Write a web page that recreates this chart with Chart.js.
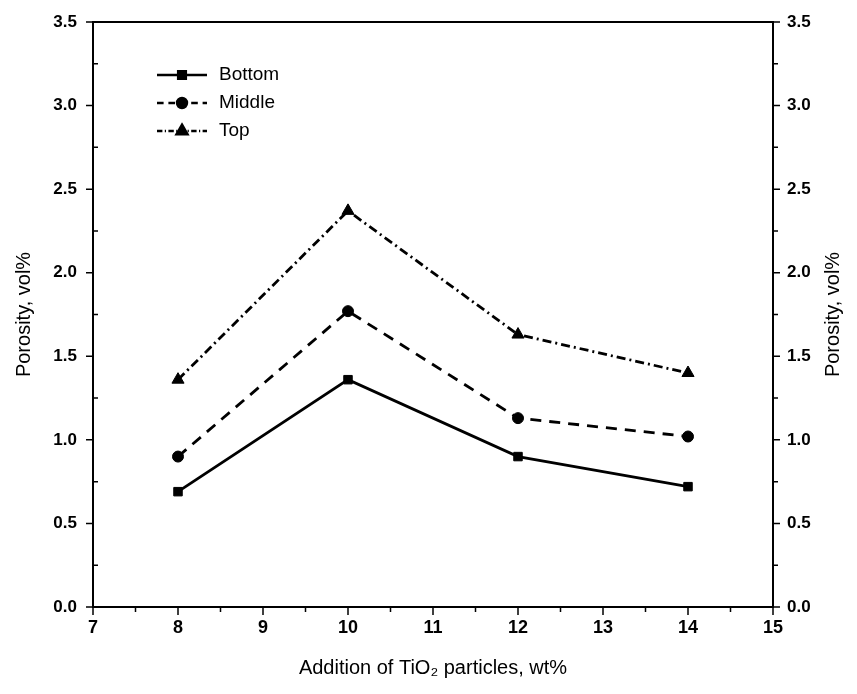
<!DOCTYPE html>
<html>
<head>
<meta charset="utf-8">
<script src="https://cdn.jsdelivr.net/npm/chart.js@4.4.1/dist/chart.umd.min.js"></script>
<style>
  html, body { margin: 0; padding: 0; background: #fff; }
  #wrap { width: 857px; height: 694px; }
</style>
</head>
<body>
<div id="wrap"><canvas id="porosity"></canvas></div>
<script>
// TiO2 addition, wt%
const additions = [8, 10, 12, 14];
// porosity, vol%
const bottomValues = [0.69, 1.36, 0.90, 0.72];
const middleValues = [0.90, 1.77, 1.13, 1.02];
const topValues = [1.36, 2.37, 1.63, 1.40];

const seriesNames = ['Bottom', 'Middle', 'Top'];
const yTitle = 'Porosity, vol%';
const xTitle = 'Addition of TiO\u2082 particles, wt%';

const FONT = "'Liberation Sans', Arial, sans-serif";

const toPoints = values => values.map((v, i) => ({ x: additions[i], y: v }));

const lineStyles = [
    { dash: [], marker: 'rect', radius: 6 },
    { dash: [11, 8], marker: 'circle', radius: 5.5 },
    { dash: [9, 4, 2, 4], marker: 'triangle', radius: 7 }
];

// frame, minor ticks, right title and the legend
const framePlugin = {
    id: 'frame',
    afterDraw (chart) {
        const { ctx, chartArea: a, scales } = chart;
        ctx.save();
        ctx.strokeStyle = '#000';
        ctx.lineWidth = 2;
        ctx.strokeRect(a.left, a.top, a.right - a.left, a.bottom - a.top);

        ctx.lineWidth = 1.5;
        ctx.beginPath();
        // x ticks
        for (let v = 7; v <= 15.001; v += 0.5) {
            const px = scales.x.getPixelForValue(v);
            const len = Number.isInteger(v) ? 8 : 5;
            ctx.moveTo(px, a.bottom);
            ctx.lineTo(px, a.bottom + len);
        }
        // y ticks, both sides
        for (let v = 0; v <= 3.501; v += 0.25) {
            const py = scales.y.getPixelForValue(v);
            const major = Math.abs(v * 2 - Math.round(v * 2)) < 1e-6;
            if (major) {
                ctx.moveTo(a.left, py); ctx.lineTo(a.left - 7, py);
                ctx.moveTo(a.right, py); ctx.lineTo(a.right + 7, py);
            } else {
                ctx.moveTo(a.left, py); ctx.lineTo(a.left + 5, py);
                ctx.moveTo(a.right, py); ctx.lineTo(a.right + 5, py);
            }
        }
        ctx.stroke();

        // right axis title reads bottom to top
        ctx.fillStyle = '#000';
        ctx.font = '20px ' + FONT;
        ctx.textAlign = 'center';
        ctx.textBaseline = 'middle';
        ctx.translate(chart.width - 24, (a.top + a.bottom) / 2);
        ctx.rotate(-Math.PI / 2);
        ctx.fillText(yTitle, 0, 0);
        ctx.restore();

        // legend
        ctx.save();
        chart.data.datasets.forEach((ds, i) => {
            const st = lineStyles[i];
            const y = a.top + 53 + i * 28;
            const x0 = a.left + 64;
            ctx.strokeStyle = '#000';
            ctx.lineWidth = 2.5;
            ctx.setLineDash(st.dash.map(d => d * 0.6));
            ctx.beginPath();
            ctx.moveTo(x0, y);
            ctx.lineTo(x0 + 50, y);
            ctx.stroke();
            ctx.setLineDash([]);
            ctx.fillStyle = '#000';
            Chart.helpers.drawPoint(ctx, {
                pointStyle: st.marker,
                radius: st.radius * 0.9,
                borderWidth: 1
            }, x0 + 25, y);
            ctx.font = '19px ' + FONT;
            ctx.textAlign = 'left';
            ctx.textBaseline = 'middle';
            ctx.fillText(ds.label, x0 + 62, y);
        });
        ctx.restore();
    }
};

const seriesValues = [bottomValues, middleValues, topValues];

const fitY = width => scale => {
    scale.width = width;
    scale.paddingTop = 0;
    scale.paddingBottom = 0;
};

new Chart(document.getElementById('porosity'), {
    type: 'line',
    data: {
        datasets: seriesValues.map((values, i) => ({
            label: seriesNames[i],
            data: toPoints(values),
            borderColor: '#000',
            backgroundColor: '#000',
            borderWidth: 2.8,
            borderDash: lineStyles[i].dash,
            pointStyle: lineStyles[i].marker,
            pointRadius: lineStyles[i].radius,
            pointBorderWidth: 1,
            tension: 0
        }))
    },
    options: {
        responsive: true,
        maintainAspectRatio: false,
        animation: false,
        layout: { padding: { top: 22, left: 0, right: 0, bottom: 0 } },
        plugins: {
            legend: { display: false },
            tooltip: { enabled: false }
        },
        scales: {
            x: {
                type: 'linear',
                min: 7,
                max: 15,
                afterFit: scale => {
                    scale.height = 87;
                    scale.paddingLeft = 0;
                    scale.paddingRight = 0;
                },
                ticks: {
                    stepSize: 1,
                    padding: 10,
                    color: '#000',
                    font: { family: FONT, size: 18, weight: 'bold' }
                },
                grid: { display: false, drawTicks: false },
                border: { display: false },
                title: {
                    display: true,
                    text: xTitle,
                    color: '#000',
                    font: { family: FONT, size: 20 },
                    padding: { top: 0, bottom: 14 }
                }
            },
            y: {
                position: 'left',
                min: 0,
                max: 3.5,
                afterFit: fitY(93),
                ticks: {
                    stepSize: 0.5,
                    padding: 16,
                    color: '#000',
                    font: { family: FONT, size: 17, weight: 'bold' },
                    callback: v => v.toFixed(1)
                },
                grid: { display: false, drawTicks: false },
                border: { display: false },
                title: {
                    display: true,
                    text: yTitle,
                    color: '#000',
                    font: { family: FONT, size: 20 },
                    padding: { top: 12, bottom: 0 }
                }
            },
            y2: {
                position: 'right',
                min: 0,
                max: 3.5,
                afterFit: fitY(84),
                ticks: {
                    stepSize: 0.5,
                    padding: 14,
                    color: '#000',
                    font: { family: FONT, size: 17, weight: 'bold' },
                    callback: v => v.toFixed(1)
                },
                grid: { display: false, drawTicks: false },
                border: { display: false }
            }
        }
    },
    plugins: [framePlugin]
});
</script>
</body>
</html>
